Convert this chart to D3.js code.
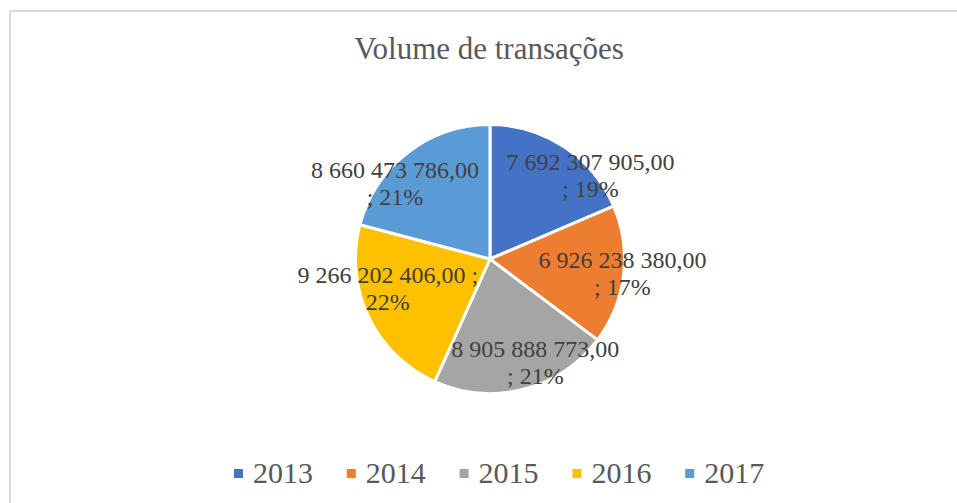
<html>
<head>
	<meta charset="utf-8">
	<script src="https://d3js.org/d3.v7.min.js"></script>
	<style>
	body{ margin:0; background-color:white; }
	text{ font-family:"Times New Roman","Liberation Serif",serif; }
	</style>
</head>
<body>
<script type="text/javascript">
	// data
	var years=["2013","2014","2015","2016","2017"];
	var volumes=[7692307905.00,6926238380.00,8905888773.00,9266202406.00,8660473786.00];
	var colors=["#4472C4","#ED7D31","#A5A5A5","#FFC000","#5B9BD5"];
	var title="Volume de transações";

	var w=957, h=503;
	var cx=490, cy=259, r=134.5;

	// label placement (best fit in the original): angle shift in degrees, distance as part of radius
	var labelShift=[[16.9,0.97],[-0.8,0.99],[-9.3,0.84],[9.5,0.79],[-14.1,0.90]];
	var sepOnFirstLine=[false,false,false,true,false];

	var pt=d3.formatLocale({decimal:",",thousands:" ",grouping:[3],currency:["",""]});
	var fmtVal=pt.format(",.2f");
	var fmtPct=d3.format(".0%");
	var total=d3.sum(volumes);

	var svg=d3.select("body").append("svg").attr("width",w).attr("height",h);

	// chart border
	svg.append("rect").attr("x",10).attr("y",11).attr("width",960).attr("height",510)
		.attr("fill","white").attr("stroke","#d9d9d9").attr("stroke-width",2);

	svg.append("text").attr("x",489).attr("y",59).attr("text-anchor","middle")
		.attr("font-size",31).attr("fill","#595959").text(title);

	var pie=d3.pie().sort(null).value(function(d){return d;});
	var arcs=pie(volumes);
	var arc=d3.arc().innerRadius(0).outerRadius(r);

	var g=svg.append("g").attr("transform","translate("+cx+","+cy+")");
	g.selectAll("path").data(arcs).enter().append("path")
		.attr("d",arc)
		.attr("fill",function(d,i){return colors[i];})
		.attr("stroke","white").attr("stroke-width",3).attr("stroke-linejoin","round");

	// data labels
	var lab=g.selectAll(".lab").data(arcs).enter().append("text").attr("class","lab")
		.attr("text-anchor","middle").attr("font-size",24).attr("fill","#404040")
		.attr("transform",function(d,i){
			var a=(d.startAngle+d.endAngle)/2+labelShift[i][0]*Math.PI/180;
			var rr=r*labelShift[i][1];
			return "translate("+(Math.sin(a)*rr)+","+(-Math.cos(a)*rr)+")";
		});
	lab.each(function(d,i){
		var v=fmtVal(volumes[i]), p=fmtPct(volumes[i]/total);
		var l1=sepOnFirstLine[i]? v+" ;" : v;
		var l2=sepOnFirstLine[i]? p : "; "+p;
		var t=d3.select(this);
		t.append("tspan").attr("x",0).attr("y",-5.5).text(l1);
		t.append("tspan").attr("x",0).attr("y",21.5).text(l2);
	});

	// legend
	var lg=svg.append("g").attr("transform","translate(234,0)");
	var item=lg.selectAll("g").data(years).enter().append("g")
		.attr("transform",function(d,i){return "translate("+(i*112.8)+",0)";});
	item.append("rect").attr("x",0).attr("y",469).attr("width",9).attr("height",9)
		.attr("fill",function(d,i){return colors[i];});
	item.append("text").attr("x",19).attr("y",483).attr("font-size",30).attr("fill","#595959")
		.text(function(d){return d;});
</script>
</body>
</html>
